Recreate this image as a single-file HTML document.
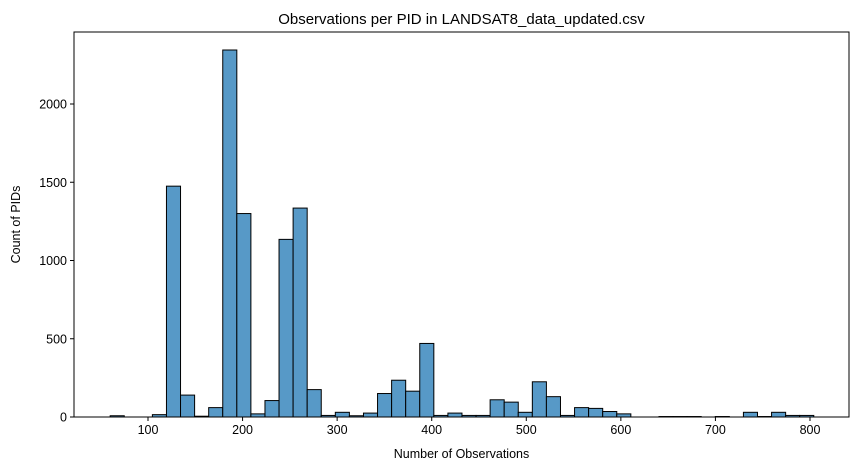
<!DOCTYPE html>
<html><head><meta charset="utf-8"><style>
html,body{margin:0;padding:0;background:#fff;}
svg{display:block;font-family:"Liberation Sans","DejaVu Sans",sans-serif;}
</style></head><body>
<svg id="chart" width="859" height="470"></svg>
<script>
const binStart = 60;
const binWidth = 14.88;
const counts = [8,0,0,15,1475,140,5,60,2345,1300,20,105,1135,1335,175,10,30,8,25,150,235,165,470,10,25,10,10,110,95,30,225,130,10,60,55,35,20,0,0,3,3,3,0,3,0,30,3,30,10,10];
const xTicks = [100,200,300,400,500,600,700,800];
const yTicks = [0,500,1000,1500,2000];

const NS = "http://www.w3.org/2000/svg";
const svg = document.getElementById('chart');
const L=74, R=849, T=32, B=417;
function xs(v){ return 148 + (v-100)*0.94571; }
function ys(v){ return 417 - v*0.1565; }
function mk(tag, attrs, parent){ const e=document.createElementNS(NS,tag); for(const k in attrs) e.setAttribute(k,attrs[k]); (parent||svg).appendChild(e); return e; }

const bars = mk('g',{});


counts.forEach((c,i)=>{
  if(c<=0) return;
  const x0=xs(binStart+i*binWidth), x1=xs(binStart+(i+1)*binWidth);
  const r=mk('rect',{x:x0,y:ys(c),width:x1-x0,height:B-ys(c),fill:'#5799c7',stroke:'#000','stroke-width':1},bars);
  
  
});

const frame = mk('rect',{x:L,y:T,width:R-L,height:B-T,fill:'none',stroke:'#000','stroke-width':1});



xTicks.forEach(t=>{
  const x=xs(t);
  mk('line',{x1:x,x2:x,y1:B,y2:B+4,stroke:'#000'});
  const tx=mk('text',{x:x,y:B+17,'text-anchor':'middle','font-size':12.5,fill:'#000'});
  tx.textContent=t;
  
  
});
yTicks.forEach(t=>{
  const y=ys(t);
  mk('line',{x1:L-4,x2:L,y1:y,y2:y,stroke:'#000'});
  const tx=mk('text',{x:L-7,y:y+4.5,'text-anchor':'end','font-size':12.5,fill:'#000'});
  tx.textContent=t;
  
  
});

const title=mk('text',{x:(L+R)/2,y:24,'text-anchor':'middle','font-size':15,fill:'#000'});
title.textContent='Observations per PID in LANDSAT8_data_updated.csv';



const xl=mk('text',{x:(L+R)/2,y:458,'text-anchor':'middle','font-size':12.5,fill:'#000'});
xl.textContent='Number of Observations';



const yl=mk('text',{x:20,y:(T+B)/2,'text-anchor':'middle','font-size':12.5,fill:'#000',transform:'rotate(-90 20 '+((T+B)/2)+')'});
yl.textContent='Count of PIDs';


</script>
</body></html>
